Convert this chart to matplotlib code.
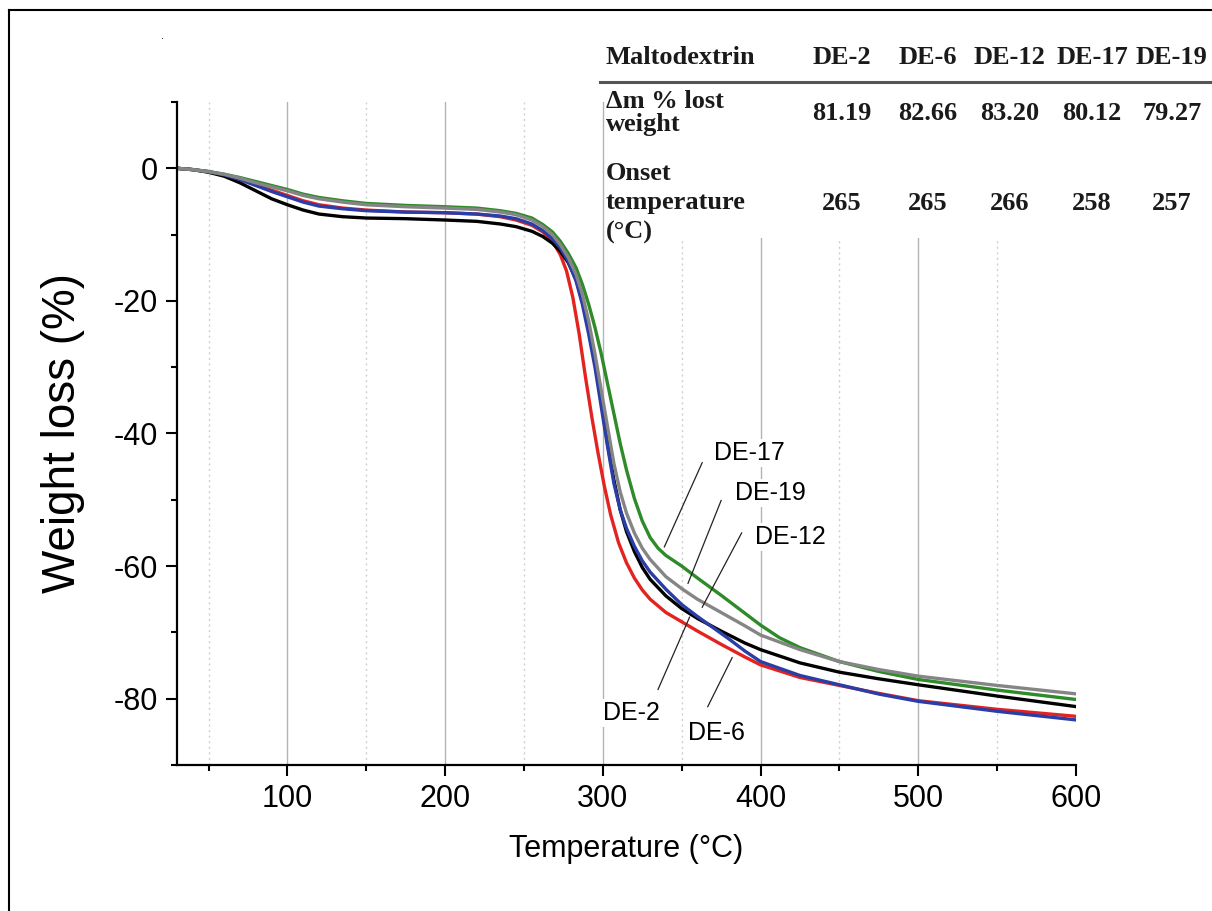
import matplotlib
matplotlib.use("Agg")
import matplotlib.pyplot as plt
from matplotlib.patches import Rectangle
from matplotlib.lines import Line2D

plt.rcParams["font.family"] = ["Liberation Sans", "DejaVu Sans"]
plt.rcParams["axes.unicode_minus"] = False

W, H = 1212, 911

# ---- TGA curves (temperature in °C, weight loss in %) ----
t_de2 = [30, 40, 50, 60, 70, 80, 90, 100, 110, 120, 135, 150, 175, 200, 220, 235, 245, 255,
         262, 268, 273, 278, 283, 287, 291, 295, 299, 303, 307, 311, 315, 320, 325, 330,
         340, 350, 360, 375, 390, 400, 425, 450, 475, 500, 550, 600]
w_de2 = [0, -0.2, -0.6, -1.2, -2.2, -3.4, -4.6, -5.5, -6.3, -6.9, -7.3, -7.5, -7.6, -7.8,
         -8.0, -8.4, -8.8, -9.5, -10.3, -11.3, -12.5, -14.2, -16.8, -19.8, -24, -29, -35,
         -41.5, -47, -51.5, -54.8, -57.8, -60.2, -62.0, -64.5, -66.4, -67.9, -69.8, -71.6,
         -72.6, -74.6, -76.0, -77.0, -77.9, -79.6, -81.19]

t_de6 = [30, 40, 50, 60, 70, 80, 90, 100, 110, 120, 135, 150, 175, 200, 220, 235, 245, 255,
         262, 268, 273, 277, 281, 285, 289, 293, 297, 301, 305, 310, 315, 320, 325, 330,
         340, 350, 360, 375, 390, 400, 425, 450, 475, 500, 550, 600]
w_de6 = [0, -0.2, -0.5, -1.0, -1.7, -2.5, -3.3, -4.1, -4.9, -5.5, -6.0, -6.3, -6.6, -6.7,
         -6.9, -7.3, -7.8, -8.6, -9.6, -11, -13, -15.5, -19.5, -25, -31.5, -37.5, -43, -48,
         -52.3, -56.5, -59.5, -61.8, -63.6, -65.0, -67.0, -68.4, -69.8, -71.8, -73.7, -74.9,
         -76.8, -78.0, -79.2, -80.3, -81.6, -82.66]

t_de12 = [30, 40, 50, 60, 70, 80, 90, 100, 110, 120, 135, 150, 175, 200, 220, 235, 245, 255,
          262, 268, 273, 278, 283, 287, 291, 295, 299, 303, 307, 311, 315, 320, 325, 330,
          340, 350, 360, 370, 380, 390, 400, 425, 450, 475, 500, 550, 600]
w_de12 = [0, -0.2, -0.5, -1.0, -1.7, -2.6, -3.5, -4.3, -5.1, -5.7, -6.1, -6.4, -6.6, -6.7,
          -6.9, -7.2, -7.6, -8.4, -9.4, -10.6, -12, -14, -17, -20.5, -25, -30, -36, -42,
          -47.5, -51.5, -54.3, -57.0, -59.2, -60.9, -63.5, -65.8, -67.6, -69.3, -71.0, -72.8,
          -74.4, -76.5, -77.9, -79.3, -80.4, -81.9, -83.2]

t_de17 = [30, 40, 50, 60, 70, 80, 90, 100, 110, 120, 135, 150, 175, 200, 220, 235, 245, 255,
          262, 268, 273, 278, 283, 287, 291, 295, 299, 303, 307, 311, 315, 320, 325, 330,
          335, 340, 350, 360, 375, 390, 400, 412, 425, 450, 475, 500, 550, 600]
w_de17 = [0, -0.2, -0.5, -0.9, -1.4, -2.0, -2.6, -3.2, -3.9, -4.4, -4.9, -5.3, -5.6, -5.8,
          -6.0, -6.4, -6.8, -7.5, -8.5, -9.6, -11, -12.8, -15, -17.5, -20.5, -24, -28, -32.5,
          -37, -41.5, -45.5, -49.8, -53.2, -55.7, -57.3, -58.4, -60.0, -61.8, -64.4, -67.1,
          -68.9, -70.8, -72.3, -74.4, -75.9, -77.1, -78.7, -80.12]

t_de19 = [30, 40, 50, 60, 70, 80, 90, 100, 110, 120, 135, 150, 175, 200, 220, 235, 245, 255,
          262, 268, 273, 278, 283, 287, 291, 295, 299, 303, 307, 311, 315, 320, 325, 330,
          340, 350, 360, 375, 390, 400, 425, 450, 475, 500, 550, 600]
w_de19 = [0, -0.2, -0.5, -0.9, -1.5, -2.2, -2.8, -3.4, -4.1, -4.6, -5.1, -5.5, -5.8, -6.0,
          -6.2, -6.6, -7.0, -7.8, -8.8, -10, -11.5, -13.4, -16, -19, -23, -28, -33.5, -39,
          -44.5, -48.8, -52, -55, -57.3, -59.0, -61.6, -63.4, -65.0, -67.0, -69.0, -70.4,
          -72.6, -74.4, -75.6, -76.6, -78.0, -79.27]

series = [
    ("DE-6", t_de6, w_de6, "#e3231f"),
    ("DE-2", t_de2, w_de2, "#000000"),
    ("DE-12", t_de12, w_de12, "#2b3da6"),
    ("DE-17", t_de17, w_de17, "#2f8a2a"),
    ("DE-19", t_de19, w_de19, "#858585"),
]

# curve labels: text position, leader start, leader end (data units)
label_names = ["DE-17", "DE-19", "DE-12", "DE-2", "DE-6"]
label_xy = [(393, -42.9), (406, -48.9), (419, -55.6), (318, -82.1), (372, -85.1)]
leader_from = [(363, -44.4), (375, -50.1), (388, -55.0), (335, -78.6), (366.5, -81.2)]
leader_to = [(339, -57.1), (354, -62.6), (363, -66.2), (355, -67.7), (382, -73.8)]

# ---- inset table ----
table_header = ["Maltodextrin", "DE-2", "DE-6", "DE-12", "DE-17", "DE-19"]
row_mass = ["81.19", "82.66", "83.20", "80.12", "79.27"]
row_onset = ["265", "265", "266", "258", "257"]


def fx(px):
    return px / W


def fy(py):
    return 1 - py / H


fig = plt.figure(figsize=(W / 100, H / 100), dpi=100)
ax = fig.add_axes([fx(177), fy(765), fx(1076 - 177), (765 - 102) / H])

# grid: solid at major, dotted at minor x ticks
for xv in [100, 200, 300, 400, 500]:
    ax.axvline(xv, color="#b4b4b4", lw=1.0, zorder=0)
for xv in [50, 150, 250, 350, 450, 550]:
    ax.axvline(xv, color="#cfcfcf", lw=1.0, ls=(0, (1.5, 2.5)), zorder=0)

for name, t, w, c in series:
    ax.plot(t, w, color=c, lw=2.4, solid_capstyle="round", solid_joinstyle="round", zorder=2)

for name, txy, a, b in zip(label_names, label_xy, leader_from, leader_to):
    ax.plot([a[0], b[0]], [a[1], b[1]], color="#222222", lw=0.9, zorder=3)
    ax.text(txy[0], txy[1], name, fontsize=18, ha="center", va="center", zorder=4,
            bbox=dict(facecolor="white", edgecolor="none", pad=1.5))

ax.set_xlim(30, 600)
ax.set_ylim(-90, 10)
ax.set_xticks([100, 200, 300, 400, 500, 600])
ax.set_xticks([50, 150, 250, 350, 450, 550], minor=True)
ax.set_yticks([0, -20, -40, -60, -80])
ax.set_yticks([10, -10, -30, -50, -70, -90], minor=True)
for s in ["top", "right"]:
    ax.spines[s].set_visible(False)
for s in ["left", "bottom"]:
    ax.spines[s].set_linewidth(1.6)
ax.tick_params(which="major", direction="out", length=8, width=1.5, labelsize=22, pad=6)
ax.tick_params(which="minor", direction="out", length=4.5, width=1.5)
ax.set_xlabel("Temperature (°C)", fontsize=22, labelpad=14)
ax.set_ylabel("Weight loss (%)", fontsize=33, labelpad=20)

# table background and text
fig.patches.append(Rectangle((fx(606), fy(238)), fx(W - 606), (238 - 38) / H,
                             transform=fig.transFigure, facecolor="white",
                             edgecolor="none", zorder=2))
fig.lines.append(Line2D([fx(600), fx(W)], [fy(82), fy(82)], transform=fig.transFigure,
                        color="#555555", lw=2.2, zorder=3))
serif = dict(family=["Liberation Serif", "DejaVu Serif"], weight="bold", fontsize=19,
             color="#1a1a1a", zorder=4)
col_x = [842, 928, 1010, 1092, 1172]
fig.text(fx(606), fy(58), table_header[0], ha="left", va="center", **serif)
for cx, h in zip(col_x, table_header[1:]):
    fig.text(fx(cx), fy(58), h, ha="center", va="center", **serif)
fig.text(fx(606), fy(101), "Δm % lost", ha="left", va="center", **serif)
fig.text(fx(606), fy(124), "weight", ha="left", va="center", **serif)
for cx, v in zip(col_x, row_mass):
    fig.text(fx(cx), fy(113), v, ha="center", va="center", **serif)
fig.text(fx(606), fy(173), "Onset", ha="left", va="center", **serif)
fig.text(fx(606), fy(203), "temperature", ha="left", va="center", **serif)
fig.text(fx(606), fy(232), "(°C)", ha="left", va="center", **serif)
for cx, v in zip(col_x, row_onset):
    fig.text(fx(cx), fy(203), v, ha="center", va="center", **serif)

# outer frame (top and left edges visible)
fig.lines.append(Line2D([fx(9), fx(W)], [fy(10), fy(10)], transform=fig.transFigure,
                        color="black", lw=1.5))
fig.lines.append(Line2D([fx(9), fx(9)], [fy(10), fy(H)], transform=fig.transFigure,
                        color="black", lw=1.5))
fig.text(fx(163), fy(36), ".", fontsize=8, ha="center", va="center")

fig.savefig("out.png", dpi=100)
